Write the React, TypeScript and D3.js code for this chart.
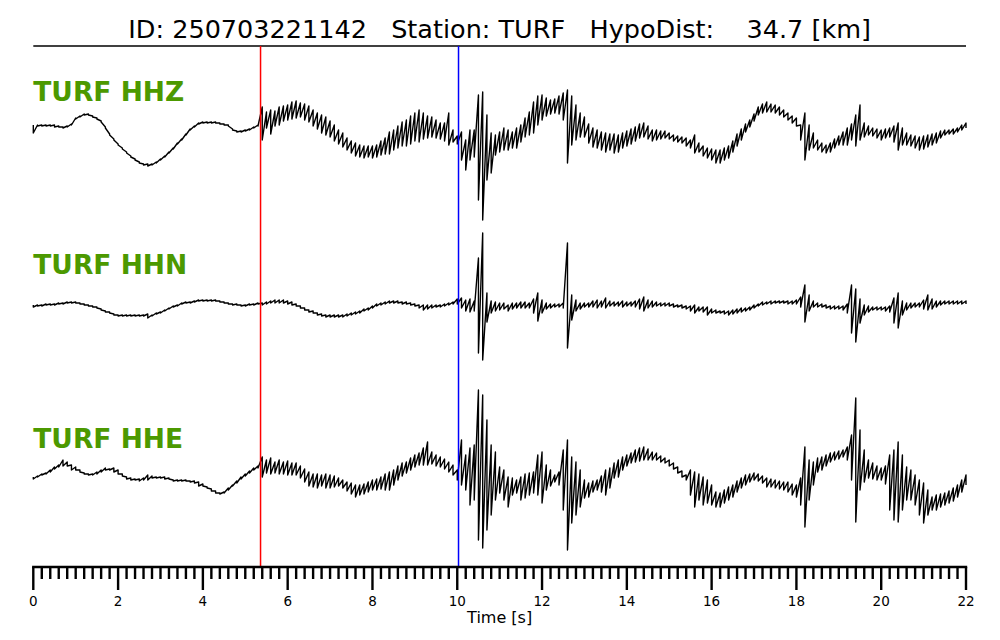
import React from 'react';
import * as d3 from 'd3';

// ---------------- data ----------------
const TITLE = 'ID: 250703221142   Station: TURF   HypoDist:    34.7 [km]';
const CHANNELS = ['TURF HHZ', 'TURF HHN', 'TURF HHE'];
const X_LABEL = 'Time [s]';
const SAMPLE_INTERVAL = 0.1; // s, one min/max pair per interval
const T_MAX = 22;
const P_PICK = 5.36;
const S_PICK = 10.03;
const MAJOR_TICKS = [0, 2, 4, 6, 8, 10, 12, 14, 16, 18, 20, 22];
const MINOR_STEP = 0.2;

// per-interval maximum / minimum amplitude (arbitrary units)
const HHZ_HI = [
  5, 5, 5, 5, 5, 5, 4, 3, 4, 6,
  12, 14, 16, 16, 14, 12, 9, 3, -4, -9,
  -14, -18, -22, -26, -29, -32, -34, -34, -34, -32,
  -29, -26, -22, -18, -13, -9, -4, 1, 4, 7,
  8, 8, 8, 8, 7, 6, 5, 1, -1, -1,
  0, 1, 3, 5, 23, 18, 20, 19, 23, 24,
  25, 28, 29, 27, 26, 24, 20, 17, 15, 13,
  9, 5, 0, -3, -8, -11, -13, -15, -16, -16,
  -16, -15, -11, -8, -2, 0, 4, 8, 10, 14,
  17, 20, 17, 14, 13, 10, 7, 7, 17, 0,
  -6, -2, -10, 0, 0, 35, 38, 15, -3, -5,
  -2, 2, 0, -2, 2, 5, 12, 18, 28, 34,
  35, 32, 30, 31, 34, 37, 40, 34, 25, 17,
  13, 6, 2, 0, -2, -3, -4, -4, -5, -3,
  -1, 1, 3, 6, 7, 4, 0, 0, -1, -1,
  -3, -5, -6, -7, -8, -10, -5, -13, -16, -18,
  -19, -20, -20, -18, -16, -11, -4, 1, 6, 10,
  16, 23, 26, 28, 26, 25, 23, 20, 17, 14,
  12, 5, 17, 5, -3, -10, -13, -15, -13, -9,
  -6, -2, 2, 6, 15, 25, 7, 4, 2, 1,
  0, 1, 2, 4, 7, 2, -3, -5, -6, -7,
  -6, -5, -4, -3, -1, 0, 0, 1, 2, 5,
  7,
];
const HHZ_LO = [
  -3, 4, 4, 4, 4, 3, 3, 2, 3, 5,
  11, 13, 15, 15, 13, 11, 8, 2, -5, -10,
  -15, -19, -23, -27, -30, -33, -35, -36, -35, -33,
  -30, -27, -23, -19, -14, -10, -5, 0, 3, 6,
  7, 7, 7, 7, 6, 5, 4, 0, -2, -2,
  -1, 0, 2, 4, -10, 2, -4, 4, 5, 9,
  10, 11, 12, 13, 10, 8, 4, 1, -3, -5,
  -7, -11, -14, -17, -20, -23, -26, -27, -28, -27,
  -28, -27, -25, -24, -24, -20, -18, -16, -16, -14,
  -11, -12, -9, -8, -7, -8, -9, -11, -15, -12,
  -14, -30, -40, -30, -27, -70, -90, -50, -43, -25,
  -22, -20, -20, -18, -18, -12, -7, -5, -3, 5,
  10, 14, 16, 17, 16, 10, -33, -15, -10, -7,
  -7, -13, -17, -18, -20, -22, -20, -23, -22, -18,
  -16, -14, -11, -8, -7, -9, -11, -10, -9, -8,
  -9, -11, -12, -13, -16, -18, -23, -22, -26, -28,
  -30, -33, -33, -30, -28, -22, -16, -10, -2, 3,
  9, 15, 17, 18, 18, 17, 15, 13, 10, 7,
  4, -10, -30, -20, -18, -20, -22, -23, -22, -18,
  -15, -15, -15, -10, -16, -10, -7, -5, -6, -8,
  -10, -8, -7, -12, -20, -15, -15, -16, -18, -20,
  -19, -17, -15, -13, -8, -5, -4, -4, -2, 0,
  2,
];

const HHN_HI = [
  -2, -2, -2, -1, -1, -1, 0, 0, 1, 1,
  1, 0, -1, -2, -3, -4, -6, -8, -9, -11,
  -12, -12, -12, -12, -12, -12, -12, -11, -12, -10,
  -9, -7, -5, -3, -2, 0, 1, 1, 2, 3,
  3, 3, 3, 3, 2, 1, 0, -1, -1, -2,
  -2, -1, -1, 0, 0, 1, 2, 3, 3, 3,
  2, 1, -1, -3, -5, -7, -8, -10, -11, -12,
  -12, -12, -12, -12, -11, -10, -9, -8, -6, -5,
  -3, -1, 0, 1, 2, 2, 2, 1, 1, 0,
  -1, -2, -2, -2, -2, -2, -2, -1, 0, 1,
  4, 5, 3, 4, 2, 45, 70, 10, 2, 1,
  0, 0, -2, 0, 0, 1, 1, 0, 4, 10,
  3, 0, -1, -1, -1, 0, 60, 8, 3, 0,
  0, 0, 2, 3, 2, 5, 2, 1, 1, 2,
  1, 1, 2, 4, 6, 3, 2, 1, 0, 0,
  0, -1, -2, -2, -3, -3, -2, -4, -4, -4,
  -6, -7, -8, -8, -8, -7, -6, -5, -5, -4,
  -2, -1, 1, 1, 2, 2, 2, 2, 2, 2,
  3, 6, 18, 8, 2, 0, -1, -2, -3, -3,
  -3, -3, -1, 18, 14, 4, -2, -3, -4, -4,
  -4, -4, -3, 5, 10, 2, 0, 0, 0, 0,
  3, 8, 4, 2, 2, 2, 2, 2, 2, 2,
  2,
];
const HHN_LO = [
  -4, -3, -3, -2, -2, -2, -1, -1, 0, 0,
  0, -1, -2, -3, -4, -5, -7, -9, -10, -12,
  -13, -13, -13, -13, -13, -13, -13, -15, -13, -11,
  -10, -8, -6, -4, -3, -1, 0, 0, 1, 2,
  2, 2, 2, 2, 1, 0, -1, -2, -2, -3,
  -3, -2, -2, -1, -2, -1, 0, 0, 0, 0,
  -1, -2, -3, -5, -7, -9, -10, -12, -13, -14,
  -14, -14, -14, -14, -13, -12, -11, -10, -8, -7,
  -5, -3, -2, -1, 0, 0, 0, -1, -1, -2,
  -3, -5, -7, -6, -5, -4, -4, -3, -2, -1,
  -1, -5, -8, -9, -8, -50, -57, -19, -10, -8,
  -7, -6, -8, -6, -5, -5, -5, -5, -10, -18,
  -10, -6, -5, -4, -4, -5, -45, -17, -8, -6,
  -4, -4, -4, -5, -4, -5, -3, -3, -3, -4,
  -3, -3, -4, -6, -8, -5, -4, -3, -3, -3,
  -3, -4, -4, -5, -6, -8, -10, -8, -9, -12,
  -10, -10, -10, -11, -12, -11, -10, -9, -8, -7,
  -5, -3, -2, -1, -1, 0, 0, 0, -1, -1,
  -1, -4, -19, -8, -4, -4, -4, -5, -6, -6,
  -6, -7, -10, -30, -39, -20, -12, -9, -7, -7,
  -7, -8, -9, -20, -25, -12, -7, -5, -4, -4,
  -6, -7, -6, -4, -2, -1, -1, -1, -1, -1,
  -1,
];

const HHE_HI = [
  1, 2, 4, 5, 8, 11, 13, 18, 16, 13,
  11, 8, 5, 4, 4, 6, 8, 10, 9, 10,
  8, 4, 1, 0, -1, -1, 0, 3, 2, 1,
  1, 1, 0, -2, -2, -2, -2, -3, -3, -4,
  -6, -9, -11, -13, -15, -14, -10, -7, -3, 1,
  4, 7, 10, 12, 21, 18, 20, 16, 18, 16,
  17, 15, 15, 12, 9, 6, 4, 4, 3, 4,
  3, 2, 0, -2, -4, -5, -7, -7, -6, -4,
  -2, -1, 1, 4, 6, 8, 12, 15, 16, 20,
  23, 25, 30, 36, 26, 23, 21, 19, 16, 13,
  8, 38, 23, 30, 33, 88, 83, 58, 33, 26,
  11, 8, 1, 0, -2, 1, 4, 5, 6, 23,
  26, 13, 8, 3, 6, 28, 38, 21, 16, 8,
  -2, -5, -3, -2, 2, 8, 10, 15, 18, 21,
  23, 25, 28, 30, 31, 29, 26, 25, 22, 20,
  18, 15, 11, 7, 3, 8, 6, 4, 1, -2,
  -7, -14, -15, -12, -9, -7, -3, 0, 3, 4,
  5, 4, 2, 0, -1, -2, -3, -4, -4, -6,
  -7, 0, 31, 18, 16, 20, 21, 23, 25, 26,
  27, 28, 31, 43, 80, 48, 28, 18, 15, 12,
  10, 12, 23, 28, 36, 23, 11, 8, 3, -2,
  -5, -12, -19, -17, -16, -15, -13, -10, -7, -2,
  3,
];
const HHE_LO = [
  -1, 1, 3, 4, 6, 9, 11, 12, 12, 8,
  8, 6, 4, 3, 3, 4, 6, 8, 8, 6,
  4, 2, -1, -2, -2, -3, -2, -2, 0, 0,
  0, -1, -1, -3, -3, -3, -3, -4, -5, -8,
  -8, -10, -13, -15, -16, -15, -12, -8, -5, -1,
  2, 5, 8, 10, 1, 5, 4, 5, 4, 4,
  3, 3, 3, 0, -4, -8, -9, -10, -8, -10,
  -10, -9, -8, -10, -13, -16, -19, -17, -16, -14,
  -12, -12, -11, -12, -12, -7, -2, 2, 5, 8,
  11, 13, 13, 13, 14, 12, 11, 9, 6, 3,
  -2, -7, -12, -27, -22, -62, -70, -52, -37, -22,
  -15, -22, -29, -17, -15, -22, -20, -17, -15, -17,
  -25, -12, -8, -4, -7, -32, -72, -45, -37, -29,
  -20, -19, -14, -12, -14, -17, -10, 0, 1, 8,
  12, 15, 16, 17, 18, 18, 18, 18, 16, 15,
  12, 9, 5, 1, -2, -17, -29, -22, -27, -25,
  -27, -29, -29, -25, -22, -19, -14, -10, -7, -4,
  -2, -3, -5, -9, -9, -10, -11, -12, -14, -17,
  -19, -27, -49, -22, -7, 6, 8, 12, 16, 18,
  19, 21, 18, -2, -44, -12, -4, 0, -1, -2,
  -2, -6, -32, -42, -44, -32, -22, -22, -27, -37,
  -45, -37, -32, -32, -29, -27, -25, -23, -19, -14,
  -7,
];

const TRACES = [
  { hi: HHZ_HI, lo: HHZ_LO },
  { hi: HHN_HI, lo: HHN_LO },
  { hi: HHE_HI, lo: HHE_LO },
];

// ---------------- layout ----------------
const W = 1000;
const H = 640;
const LEFT = 33.3;
const RIGHT = 966;
const TOP_RULE = 46;
const AXIS_Y = 567;
const ROW_CENTERS = [130, 303, 478];
const LABEL_BASELINES = [101, 274, 448];
const FONT = '"DejaVu Sans", Verdana, sans-serif';
const GREEN = '#4c9900';

const x = d3.scaleLinear().domain([0, T_MAX]).range([LEFT, RIGHT]);

// min/max rendering: each interval draws a vertical stroke from its max to its min
function tracePath(hi: number[], lo: number[], center: number): string {
  const y = d3.scaleLinear().domain([-100, 100]).range([center + 100, center - 100]);
  const pts: [number, number][] = [];
  hi.forEach((h, i) => {
    const t = i * SAMPLE_INTERVAL;
    pts.push([t, h]);
    pts.push([t, lo[i]]);
  });
  return (
    d3
      .line<[number, number]>()
      .x((d) => x(d[0]))
      .y((d) => y(d[1]))(pts) || ''
  );
}

export default function App() {
  const minorTicks = d3
    .range(0, T_MAX + 1e-6, MINOR_STEP)
    .filter((t) => MAJOR_TICKS.every((m) => Math.abs(m - t) > 1e-6));

  return (
    <svg
      width={W}
      height={H}
      viewBox={`0 0 ${W} ${H}`}
      style={{ position: 'fixed', left: 0, top: 0, background: '#fff' }}
      fontFamily={FONT}
    >
      <rect x={0} y={0} width={W} height={H} fill="#fff" />
      <text
        x={(LEFT + RIGHT) / 2}
        y={38}
        textAnchor="middle"
        fontSize={25.5}
        fill="#000"
        style={{ whiteSpace: 'pre' }}
      >
        {TITLE}
      </text>
      <line x1={LEFT} x2={RIGHT} y1={TOP_RULE} y2={TOP_RULE} stroke="#000" strokeWidth={1.5} />

      {TRACES.map((tr, i) => (
        <path
          key={CHANNELS[i]}
          d={tracePath(tr.hi, tr.lo, ROW_CENTERS[i])}
          fill="none"
          stroke="#000"
          strokeWidth={1.4}
          strokeLinejoin="round"
        />
      ))}

      {CHANNELS.map((c, i) => (
        <text
          key={c}
          x={LEFT}
          y={LABEL_BASELINES[i]}
          fontSize={26.5}
          fontWeight="bold"
          fill={GREEN}
        >
          {c}
        </text>
      ))}

      <line x1={x(P_PICK)} x2={x(P_PICK)} y1={TOP_RULE} y2={AXIS_Y} stroke="#ff0000" strokeWidth={1.5} />
      <line x1={x(S_PICK)} x2={x(S_PICK)} y1={TOP_RULE} y2={AXIS_Y} stroke="#0000ff" strokeWidth={1.5} />

      <g>
        <line x1={LEFT - 1.2} x2={RIGHT + 1.2} y1={AXIS_Y} y2={AXIS_Y} stroke="#000" strokeWidth={2.4} />
        {minorTicks.map((t) => (
          <line key={'m' + t} x1={x(t)} x2={x(t)} y1={AXIS_Y} y2={AXIS_Y + 12} stroke="#000" strokeWidth={2.4} />
        ))}
        {MAJOR_TICKS.map((t) => (
          <g key={'M' + t}>
            <line x1={x(t)} x2={x(t)} y1={AXIS_Y} y2={AXIS_Y + 23} stroke="#000" strokeWidth={2.4} />
            <text x={x(t)} y={606} textAnchor="middle" fontSize={13.5} fill="#000">
              {t}
            </text>
          </g>
        ))}
        <text x={(LEFT + RIGHT) / 2} y={623} textAnchor="middle" fontSize={16} fill="#000">
          {X_LABEL}
        </text>
      </g>
    </svg>
  );
}
